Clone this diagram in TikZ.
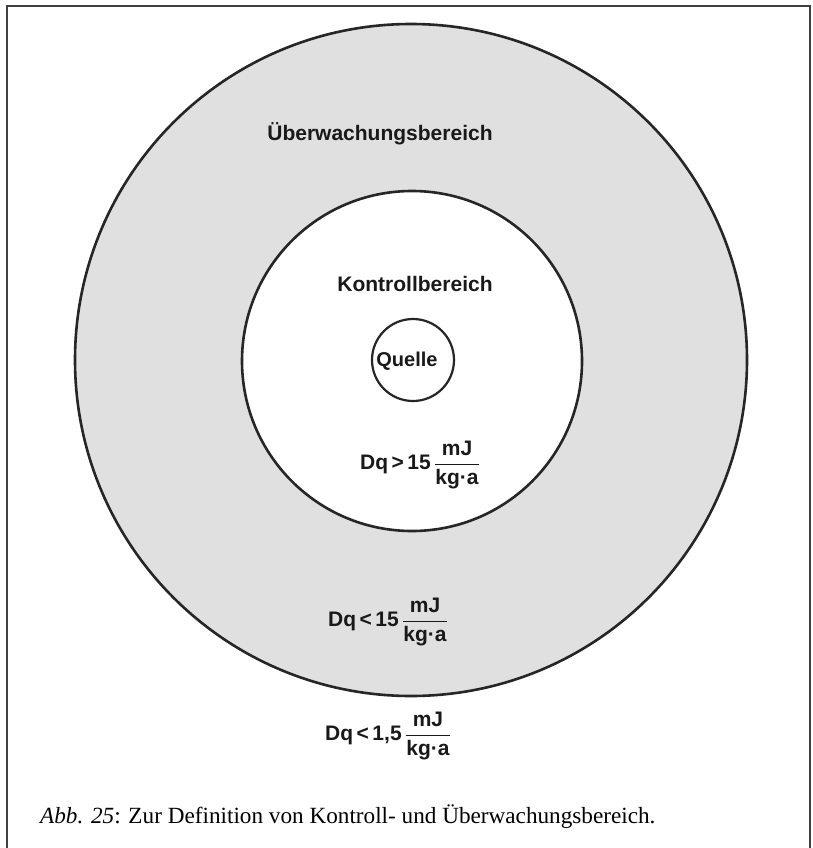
\documentclass[tikz,border=0pt]{standalone}
\usepackage{amsmath}
\usepackage{fontspec}
\setmainfont{Liberation Sans}
\newfontfamily\capfont{Liberation Serif}
\newcommand{\dqlabel}[2]{Dq\,#1\,#2\,$\dfrac{\text{mJ}}{\text{kg·a}}$}
\begin{document}
\begin{tikzpicture}[x=1pt,y=-1pt,
  ring/.style={circle, draw=black!85, inner sep=0pt},
  lbl/.style={font=\bfseries\fontsize{21}{24}\selectfont, text=black!90, inner sep=0pt},
  frameline/.style={draw=black!75, line width=1.3pt}]
\useasboundingbox (0,0) rectangle (812,848);
\fill[white] (0,0) rectangle (812,848);
% frame
\coordinate (fbl) at (7,848);
\coordinate (ftl) at (7,6);
\coordinate (ftr) at (810,6);
\coordinate (fbr) at (810,848);
\draw[frameline] (fbl) -- (ftl) -- (ftr) -- (fbr);
% circles
\node[ring, fill=black!12, line width=2.6pt, minimum size=672pt] (outer) at (411,360) {};
\node[ring, fill=white, line width=2.6pt, minimum size=340pt] (inner) at (412,361) {};
\node[ring, fill=white, line width=2.2pt, minimum size=82pt] (src) at (413,360) {};
% labels
\node[lbl] (uew) at (380,134) {Überwachungsbereich};
\node[lbl] (kon) at (415,284) {Kontrollbereich};
\node[lbl, font=\bfseries\fontsize{20}{24}\selectfont] (que) at (407,361) {Quelle};
\node[lbl] (dq1) at (420,465) {\dqlabel{>}{15}};
\node[lbl] (dq2) at (388,622) {\dqlabel{<}{15}};
\node[lbl] (dq3) at (388,736) {\dqlabel{<}{1,5}};
% caption
\node[anchor=base west, inner sep=0pt, font=\capfont\fontsize{23.2}{27}\selectfont] (cap) at (40,823)
  {\textit{Abb.} \textit{25}: Zur Definition von Kontroll- und Überwachungsbereich.};
\end{tikzpicture}
\end{document}
